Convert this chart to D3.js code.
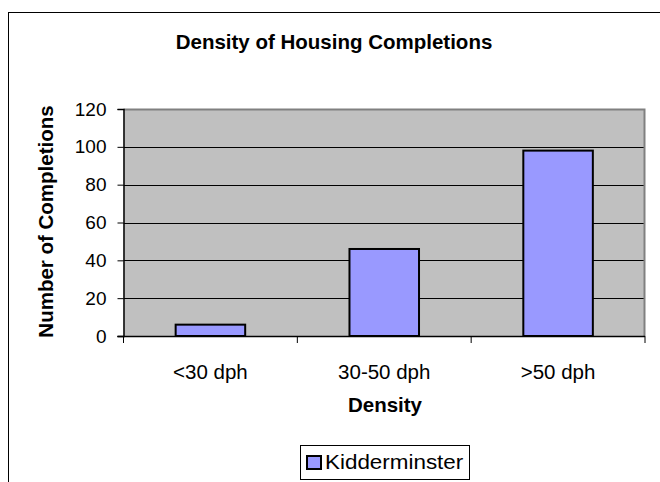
<!DOCTYPE html>
<html><head><meta charset="utf-8">
<script src="https://cdn.jsdelivr.net/npm/d3@7"></script>
<style>body{margin:0;background:#fff}svg{display:block}text{font-family:"Liberation Sans",Arial,sans-serif}</style>
</head><body>
<script>
const categories = ["<30 dph", "30-50 dph", ">50 dph"];
const values = [6, 46, 98];
const seriesName = "Kidderminster";
const yTicks = [0, 20, 40, 60, 80, 100, 120];

const W = 660, H = 482;
const svg = d3.select("body").append("svg").attr("width", W).attr("height", H);

// outer chart border
svg.append("rect").attr("x", 8.5).attr("y", 12.5).attr("width", 700).attr("height", 600)
  .attr("fill", "#fff").attr("stroke", "#000").attr("stroke-width", 1);

const L = 123.5, R = 645, T = 109, B = 336;
const x = d3.scaleBand().domain(categories).range([L, R]).paddingInner(0.6).paddingOuter(0.3);
const y = d3.scaleLinear().domain([0, 120]).range([B, T]);

// plot area
svg.append("rect").attr("x", L).attr("y", T).attr("width", R - L).attr("height", B - T).attr("fill", "#C0C0C0");
// gridlines
svg.append("g").selectAll("line").data(yTicks.filter(d => d > 0 && d < 120)).join("line")
  .attr("x1", L).attr("x2", R).attr("y1", d => Math.round(y(d)) + 0.5).attr("y2", d => Math.round(y(d)) + 0.5)
  .attr("stroke", "#000").attr("stroke-width", 1);
// frame top/right gray
svg.append("path").attr("d", `M${L},${T + 0.5}H${R - 0.5}V${B}`).attr("fill", "none").attr("stroke", "#808080").attr("stroke-width", 2);

// bars
svg.append("g").selectAll("rect").data(values).join("rect")
  .attr("x", (d, i) => x(categories[i])).attr("width", x.bandwidth())
  .attr("y", d => y(d)).attr("height", d => y(0) - y(d))
  .attr("fill", "#9999FF").attr("stroke", "#000").attr("stroke-width", 2);

// y axis
const yAxis = d3.axisLeft(y).tickValues(yTicks).tickSize(6).tickPadding(11);
const gy = svg.append("g").attr("transform", `translate(${L},0)`).call(yAxis);
gy.select(".domain").attr("stroke", "#000").attr("stroke-width", 1.5);
gy.selectAll(".tick line").attr("stroke", "#000");
gy.selectAll("text").attr("font-size", 19).attr("fill", "#000").attr("font-family", "Liberation Sans, Arial, sans-serif");

// x axis
const gx = svg.append("g").attr("transform", `translate(0,${B})`);
gx.append("line").attr("x1", L - 6).attr("x2", R).attr("y1", 0.5).attr("y2", 0.5).attr("stroke", "#000").attr("stroke-width", 1.5);
const bounds = [L].concat(categories.map(c => x(c) - x.step() * 0.3 + x.step()));
gx.selectAll("line.tk").data(bounds).join("line").attr("class", "tk")
  .attr("x1", d => d).attr("x2", d => d).attr("y1", 0).attr("y2", 7).attr("stroke", "#000").attr("stroke-width", 1);
gx.selectAll("text").data(categories).join("text")
  .attr("x", d => x(d) + x.bandwidth() / 2).attr("y", 43).attr("text-anchor", "middle")
  .attr("font-size", 20.5).text(d => d);

// titles
svg.append("text").attr("x", 334).attr("y", 49).attr("text-anchor", "middle")
  .attr("font-size", 20.5).attr("font-weight", "bold").text("Density of Housing Completions");
svg.append("text").attr("x", 385).attr("y", 412).attr("text-anchor", "middle")
  .attr("font-size", 20.5).attr("font-weight", "bold").text("Density");
svg.append("text").attr("transform", `translate(53,${(T + B) / 2 - 1}) rotate(-90)`).attr("text-anchor", "middle")
  .attr("font-size", 20.5).attr("font-weight", "bold").text("Number of Completions");

// legend
const lg = svg.append("g");
lg.append("rect").attr("x", 300.5).attr("y", 445.5).attr("width", 169).attr("height", 34).attr("fill", "#fff").attr("stroke", "#000");
lg.append("rect").attr("x", 307).attr("y", 456).attr("width", 14).attr("height", 13).attr("fill", "#9999FF").attr("stroke", "#000").attr("stroke-width", 2);
lg.append("text").attr("transform", "translate(325,469) scale(1.15,1)").attr("font-size", 19.5).text(seriesName);
</script>
</body></html>
